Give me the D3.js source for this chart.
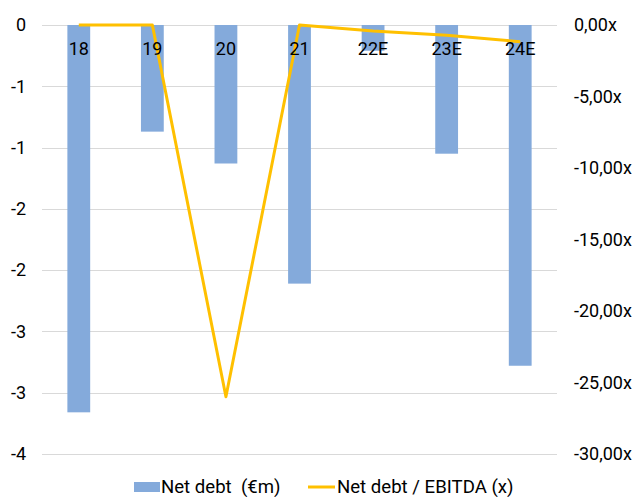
<!DOCTYPE html>
<html>
<head>
<meta charset="utf-8">
<script src="https://cdn.jsdelivr.net/npm/d3@7"></script>
<style>
  html, body { margin: 0; padding: 0; background: #fff; }
  svg { display: block; font-family: Roboto, "Noto Sans", sans-serif; }
</style>
</head>
<body>
<svg id="chart" width="637" height="497"></svg>
<script>
const categories = ["18", "19", "20", "21", "22E", "23E", "24E"];
const netDebt = [-3.16, -0.87, -1.13, -2.11, -0.21, -1.05, -2.78];
const netDebtEbitda = [0, 0, -26.0, 0, -0.42, -0.72, -1.17];
const leftTicks = [0, -0.5, -1, -1.5, -2, -2.5, -3, -3.5];
const rightTicks = [0, -5, -10, -15, -20, -25, -30];
const seriesNames = ["Net debt  (€m)", "Net debt / EBITDA (x)"];

const svg = d3.select("#chart");
const plot = { left: 42, right: 557, top: 25, bottom: 454 };

const x = d3.scaleBand().domain(categories).range([plot.left, plot.right]).paddingInner(0.69).paddingOuter(0.345);
const yL = d3.scaleLinear().domain([-3.5, 0]).range([plot.bottom, plot.top]);
const yR = d3.scaleLinear().domain([-30, 0]).range([plot.bottom, plot.top]);

const fmtLeft = v => { const r = Math.sign(v) * Math.round(Math.abs(v)); return r === 0 ? "0" : String(r); };
const fmtRight = v => v.toFixed(2).replace(".", ",") + "x";

// gridlines
svg.append("g").selectAll("line").data(leftTicks).join("line")
  .attr("x1", plot.left).attr("x2", plot.right)
  .attr("y1", d => Math.round(yL(d)) + 0.5).attr("y2", d => Math.round(yL(d)) + 0.5)
  .attr("stroke", "#d9d9d9").attr("stroke-width", 1);

// left axis labels
const axL = d3.axisLeft(yL).tickValues(leftTicks).tickFormat(fmtLeft).tickSize(0).tickPadding(0);
svg.append("g").attr("transform", `translate(26,0)`).call(axL)
  .call(g => g.select(".domain").remove())
  .call(g => g.selectAll("text").attr("font-size", 18).attr("fill", "#000").attr("font-family", "Roboto"));

// right axis labels
const axR = d3.axisRight(yR).tickValues(rightTicks).tickFormat(fmtRight).tickSize(0).tickPadding(0);
svg.append("g").attr("transform", `translate(574,0)`).call(axR)
  .call(g => g.select(".domain").remove())
  .call(g => g.selectAll("text").attr("font-size", 18).attr("fill", "#000").attr("font-family", "Roboto"));

// bars
svg.append("g").selectAll("rect").data(netDebt).join("rect")
  .attr("x", (d, i) => x(categories[i]))
  .attr("width", x.bandwidth())
  .attr("y", d => yL(0))
  .attr("height", d => yL(d) - yL(0))
  .attr("fill", "#84aadb");

// line
const line = d3.line().x((d, i) => x(categories[i]) + x.bandwidth() / 2).y(d => yR(d));
svg.append("path").datum(netDebtEbitda)
  .attr("d", line).attr("fill", "none")
  .attr("stroke", "#ffc000").attr("stroke-width", 3).attr("stroke-linejoin", "round");

// category labels
svg.append("g").selectAll("text").data(categories).join("text")
  .attr("x", d => x(d) + x.bandwidth() / 2)
  .attr("y", 55)
  .attr("text-anchor", "middle")
  .attr("font-size", 18).attr("fill", "#000")
  .text(d => d);

// legend
const lg = svg.append("g");
lg.append("rect").attr("x", 134).attr("y", 482).attr("width", 26).attr("height", 10).attr("fill", "#84aadb");
lg.append("text").attr("x", 161).attr("y", 492.5).attr("font-size", 18.6).attr("fill", "#000")
  .style("white-space", "pre").attr("xml:space", "preserve").text(seriesNames[0]);
lg.append("line").attr("x1", 308).attr("x2", 335).attr("y1", 487).attr("y2", 487).attr("stroke", "#ffc000").attr("stroke-width", 3);
lg.append("text").attr("x", 337).attr("y", 492.5).attr("font-size", 18.6).attr("fill", "#000").text(seriesNames[1]);
</script>
</body>
</html>
